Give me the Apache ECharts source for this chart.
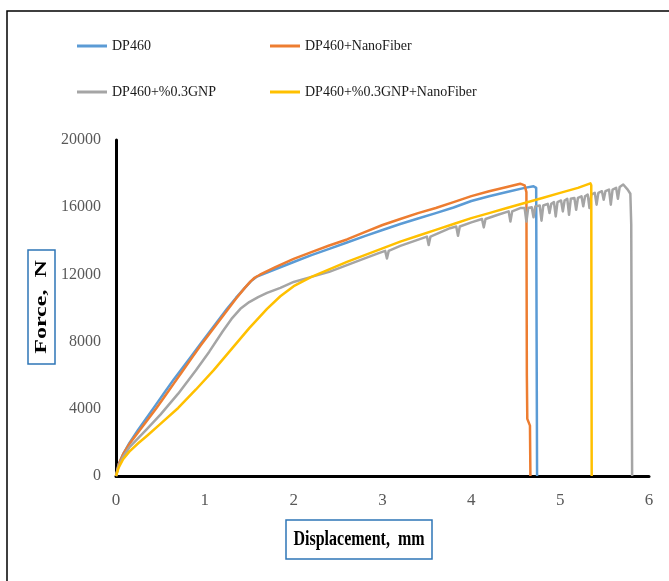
<!DOCTYPE html>
<html>
<head>
<meta charset="utf-8">
<script src="https://cdn.jsdelivr.net/npm/echarts@6/dist/echarts.min.js"></script>
<style>html,body{margin:0;padding:0;background:#fff;}#c{width:669px;height:581px;}</style>
</head>
<body>
<div id="c"></div>
<script>
const seriesNames = ['DP460', 'DP460+NanoFiber', 'DP460+%0.3GNP', 'DP460+%0.3GNP+NanoFiber'];
const xTicks = [0, 1, 2, 3, 4, 5, 6];
const yTicks = [0, 4000, 8000, 12000, 16000, 20000];

const dp460X = [0, 0.03, 0.08, 0.15, 0.25, 0.35, 0.45, 0.55, 0.65, 0.75, 0.85, 0.95, 1.05, 1.15, 1.25, 1.35, 1.45, 1.52, 1.58, 1.65, 1.8, 2.0, 2.2, 2.4, 2.6, 2.8, 3.0, 3.2, 3.4, 3.6, 3.8, 4.0, 4.2, 4.4, 4.6, 4.70, 4.73, 4.735, 4.74];
const dp460Y = [0, 700, 1300, 1950, 2750, 3500, 4250, 5000, 5750, 6450, 7150, 7850, 8550, 9250, 9950, 10600, 11200, 11600, 11850, 12000, 12320, 12740, 13150, 13520, 13900, 14280, 14640, 15000, 15330, 15650, 15980, 16370, 16650, 16900, 17150, 17250, 17150, 8000, 0];

const nanoX = [0, 0.03, 0.08, 0.15, 0.25, 0.35, 0.45, 0.55, 0.65, 0.75, 0.85, 0.95, 1.05, 1.15, 1.25, 1.35, 1.45, 1.51, 1.56, 1.62, 1.8, 2.0, 2.2, 2.4, 2.6, 2.8, 3.0, 3.2, 3.4, 3.6, 3.8, 4.0, 4.2, 4.4, 4.55, 4.60, 4.62, 4.625, 4.63, 4.645, 4.66, 4.665];
const nanoY = [0, 700, 1300, 1900, 2600, 3300, 4000, 4750, 5500, 6250, 7000, 7750, 8450, 9150, 9850, 10550, 11200, 11550, 11800, 11980, 12450, 12920, 13330, 13720, 14080, 14520, 14940, 15300, 15650, 15950, 16300, 16660, 16950, 17200, 17400, 17300, 16900, 6000, 3400, 3300, 3000, 0];

const gnpX = [0, 0.03, 0.08, 0.15, 0.25, 0.35, 0.5, 0.7, 0.9, 1.05, 1.2, 1.3, 1.4, 1.5, 1.6, 1.7, 1.85, 2.0, 2.2, 2.4, 2.6, 2.8, 2.95,
  3.03, 3.05, 3.07, 3.2, 3.5, 3.52, 3.54, 3.76, 3.83, 3.85, 3.87, 4.0,
  4.12, 4.14, 4.16, 4.3, 4.42, 4.44, 4.46, 4.55, 4.60, 4.62, 4.64, 4.68, 4.70, 4.72,
  4.77, 4.79, 4.81, 4.86, 4.88, 4.90, 4.93, 4.95, 4.97, 5.01, 5.03, 5.05, 5.08, 5.10, 5.12,
  5.16, 5.18, 5.20, 5.24, 5.26, 5.28, 5.31, 5.33, 5.35, 5.39, 5.41, 5.43, 5.47, 5.49, 5.51,
  5.55, 5.57, 5.59, 5.63, 5.65, 5.67, 5.71, 5.76, 5.79, 5.80, 5.81];
const gnpY = [0, 600, 1150, 1700, 2250, 2800, 3650, 4900, 6300, 7400, 8600, 9350, 9950, 10350, 10650, 10900, 11200, 11550, 11850, 12150, 12550, 12950, 13250,
  13400, 12950, 13400, 13700, 14250, 13750, 14250, 14750, 14850, 14300, 14850, 15100,
  15300, 14800, 15300, 15550, 15750, 15150, 15750, 15950, 15950, 15150, 15950, 16000, 15400, 16050,
  16100, 15200, 16100, 16200, 15650, 16200, 16300, 15450, 16300, 16400, 15750, 16400, 16500, 15550, 16500,
  16550, 15850, 16550, 16650, 16050, 16650, 16750, 15950, 16750, 16850, 16150, 16850, 16950, 16450, 16950,
  17050, 16150, 17050, 17150, 16500, 17200, 17350, 17050, 16800, 15000, 0];

const gnpNanoX = [0, 0.03, 0.08, 0.15, 0.25, 0.35, 0.5, 0.7, 0.9, 1.1, 1.3, 1.5, 1.7, 1.85, 2.0, 2.2, 2.4, 2.6, 2.8, 3.0, 3.2, 3.4, 3.6, 3.8, 4.0, 4.2, 4.4, 4.6, 4.8, 5.0, 5.2, 5.34, 5.35, 5.355];
const gnpNanoY = [0, 500, 1000, 1450, 1950, 2400, 3100, 4050, 5150, 6300, 7550, 8800, 9950, 10700, 11300, 11850, 12300, 12750, 13150, 13550, 13950, 14300, 14650, 15000, 15350, 15650, 15950, 16250, 16550, 16850, 17150, 17420, 17300, 0];

const colors = ['#5B9BD5', '#ED7D31', '#A5A5A5', '#FFC000'];
const xs = [dp460X, nanoX, gnpX, gnpNanoX];
const ys = [dp460Y, nanoY, gnpY, gnpNanoY];

const chart = echarts.init(document.getElementById('c'), null, {renderer: 'canvas'});
const serif = 'Liberation Serif';
const legendPos = [[77, 39], [270, 39], [77, 85], [270, 85]];

const option = {
  animation: false,
  backgroundColor: '#fff',
  grid: {left: 116, top: 140, right: 20, bottom: 105, containLabel: false},
  legend: seriesNames.map((n, i) => ({
    data: [n], left: legendPos[i][0], top: legendPos[i][1], padding: 0,
    icon: 'path://M0,0L30,0L30,3L0,3Z', itemWidth: 30, itemHeight: 3,
    selectedMode: false,
    textStyle: {fontFamily: serif, fontSize: 14, color: '#1a1a1a'}
  })),
  xAxis: {
    type: 'value', min: xTicks[0], max: xTicks[xTicks.length - 1], interval: 1,
    axisLine: {show: true, onZero: false, lineStyle: {color: '#000', width: 3}},
    axisTick: {show: false}, splitLine: {show: false},
    axisLabel: {fontFamily: serif, fontSize: 17, color: '#595959', margin: 16}
  },
  yAxis: {
    type: 'value', min: yTicks[0], max: yTicks[yTicks.length - 1], interval: 4000,
    axisLine: {show: true, lineStyle: {color: '#000', width: 3}},
    axisTick: {show: false}, splitLine: {show: false},
    axisLabel: {fontFamily: serif, fontSize: 16, color: '#595959', margin: 15, formatter: v => String(v)}
  },
  series: seriesNames.map((n, i) => ({
    name: n, type: 'line', showSymbol: false, symbol: 'none',
    data: xs[i].map((x, k) => [x, ys[i][k]]),
    lineStyle: {color: colors[i], width: 2.5, join: 'round'},
    itemStyle: {color: colors[i]},
    z: 2 + i
  })),
  graphic: [
    {type: 'rect', shape: {x: 7, y: 11, width: 900, height: 900}, style: {fill: 'none', stroke: '#000', lineWidth: 1.5}, z: 0, silent: true},
    {type: 'rect', shape: {x: 28, y: 250, width: 27, height: 114}, style: {fill: '#fff', stroke: '#2E75B6', lineWidth: 1.5}, z: 10},
    {type: 'text', x: 42, y: 307, rotation: Math.PI / 2, scaleX: 1.5,
      style: {text: 'Force,  N', fontFamily: serif, fontWeight: 'bold', fontSize: 16, fill: '#000', align: 'center', verticalAlign: 'middle'}, z: 11},
    {type: 'rect', shape: {x: 286, y: 520, width: 146, height: 39}, style: {fill: '#fff', stroke: '#2E75B6', lineWidth: 1.5}, z: 10},
    {type: 'text', x: 359, y: 540, scaleY: 1.3,
      style: {text: 'Displacement,  mm', fontFamily: serif, fontWeight: 'bold', fontSize: 16, fill: '#000', align: 'center', verticalAlign: 'middle'}, z: 11}
  ]
};
chart.setOption(option);
</script>
</body>
</html>
